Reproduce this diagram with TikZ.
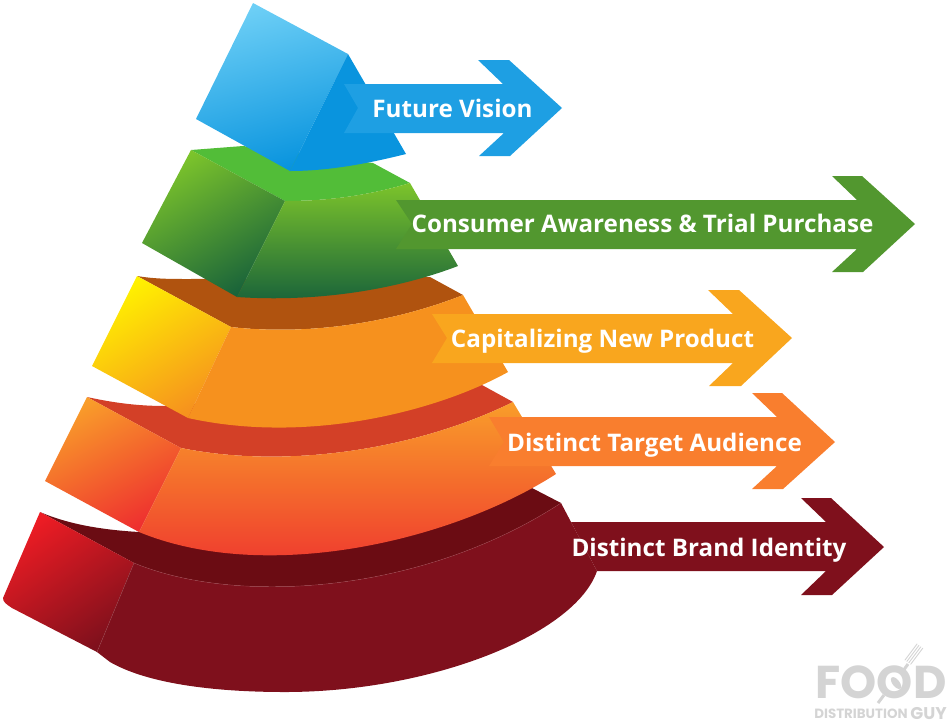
\documentclass[tikz,border=0pt]{standalone}
\usepackage{fontspec}
\setmainfont{Open Sans}
\newfontfamily\logofont{Poppins}
\usetikzlibrary{arrows.meta,calc}

\definecolor{skylight}{HTML}{6DCFF6}
\definecolor{skyface}{HTML}{0994DE}
\definecolor{skyarrow}{HTML}{1E9FE3}
\definecolor{leaflight}{HTML}{7CC42B}
\definecolor{leafdark}{HTML}{19633A}
\definecolor{leaftop}{HTML}{52BD38}
\definecolor{leafarrow}{HTML}{52972F}
\definecolor{ambertop}{HTML}{B0530F}
\definecolor{amberyellow}{HTML}{FFF200}
\definecolor{amberface}{HTML}{F6911E}
\definecolor{amberarrow}{HTML}{F9A61E}
\definecolor{coraltop}{HTML}{D34027}
\definecolor{corallight}{HTML}{F99D2A}
\definecolor{coraldark}{HTML}{EE2F2F}
\definecolor{coralarrow}{HTML}{F97E2E}
\definecolor{winetop}{HTML}{6B0C13}
\definecolor{winered}{HTML}{ED1C24}
\definecolor{wineface}{HTML}{7F101C}
\definecolor{logogrey}{HTML}{D4D4D4}

\tikzset{
	arrowlabel/.style={text=white,font=\fontsize{24.2}{27}\selectfont\bfseries,inner sep=0pt,anchor=base},
	logotext/.style={text=logogrey,inner sep=0pt,anchor=base},
	tine/.style={logogrey,line width=0.9pt,line cap=round}
}

\begin{document}
\begin{tikzpicture}[x=1pt,y=-1pt]
	\useasboundingbox (0,0) rectangle (952,724);
	% bottom layer
	\fill[winetop] (40,512) .. controls (70,525) and (105,530) .. (139,532) -- (532,488) -- (561,503) .. controls (420,595) and (235,605) .. (134,563) -- cycle;
	\shade[top color=winered,bottom color=wineface,shading angle=35] (40,512) -- (134,563) -- (97,652) -- (12,608) .. controls (6,604) and (3,602) .. (3,598) -- cycle;
	\fill[wineface] (134,563) .. controls (235,605) and (420,595) .. (561,503) -- (571,522) -- (597,571) .. controls (575,635) and (430,692) .. (285,692) .. controls (220,692) and (150,685) .. (110,662) -- (97,652) -- cycle;
	\draw[wineface!80!white,line width=0.4pt] (97,652) -- (134,563) .. controls (235,605) and (420,595) .. (561,503);
	\fill[wineface] (571,522) -- (826,522) -- (801,498) -- (831,498) -- (884,547) -- (832,595) -- (801,595) -- (826,571) -- (597,571) -- cycle;
	\node[arrowlabel] (brandidentity) at (709,556) {Distinct Brand Identity};
	% second layer
	\fill[coraltop] (87,397) .. controls (110,402) and (135,406) .. (165,406) -- (482,385) -- (513,402) .. controls (420,448) and (290,470) .. (181,448) -- cycle;
	\shade[top color=corallight,bottom color=coraldark,shading angle=28] (87,397) -- (181,448) -- (139,532) -- (45,481) -- cycle;
	\shade[top color=corallight,bottom color=coraldark] (181,448) .. controls (290,470) and (420,448) .. (513,402) -- (556,474) .. controls (450,542) and (265,584) .. (139,532) -- cycle;
	\fill[coralarrow] (489,417) -- (777,417) -- (752,393) -- (782,393) -- (835,442) -- (783,489) -- (752,489) -- (777,466) -- (489,466) -- (504,442) -- cycle;
	\node[arrowlabel] (targetaudience) at (654.5,451) {Distinct Target Audience};
	% third layer
	\fill[ambertop] (137,276) .. controls (155,279) and (170,279) .. (190,279) -- (430,277) -- (463,295) .. controls (395,322) and (310,336) .. (231,327) -- cycle;
	\shade[top color=amberyellow,bottom color=amberface,shading angle=32] (137,276) -- (231,327) -- (188,418) -- (92,366) -- cycle;
	\fill[amberface] (231,327) .. controls (310,336) and (395,322) .. (463,295) -- (508,372) .. controls (440,410) and (310,445) .. (188,418) -- cycle;
	\fill[amberarrow] (432,314) -- (733,314) -- (708,290) -- (739,290) -- (792,338) -- (741,386) -- (709,386) -- (733,363) -- (432,363) -- (447,338) -- cycle;
	\node[arrowlabel] (newproduct) at (602.5,347) {Capitalizing New Product};
	% fourth layer
	\fill[leaftop] (191,150) -- (243,146) -- (373,163) -- (410,183) .. controls (370,195) and (330,201) .. (285,201) -- cycle;
	\shade[top color=leaflight,bottom color=leafdark,shading angle=30] (191,150) -- (285,201) -- (237,297) -- (142,243) -- cycle;
	\shade[top color=leaflight,bottom color=leafdark] (285,201) .. controls (330,201) and (370,195) .. (410,183) -- (458,266) .. controls (390,292) and (310,302) .. (237,297) -- cycle;
	\fill[leafarrow] (396,200) -- (857,200) -- (832,176) -- (862,176) -- (915,224) -- (863,272) -- (832,272) -- (857,249) -- (396,249) -- (412,224) -- cycle;
	\node[arrowlabel] (trialpurchase) at (642.5,232) {Consumer Awareness \& Trial Purchase};
	% top layer
	\shade[top color=skylight,bottom color=skyface,shading angle=15] (253,3) -- (348,54) -- (290,171) -- (196,119) -- cycle;
	\fill[skyface] (348,54) -- (406,154) .. controls (370,163) and (330,171) .. (290,171) -- cycle;
	\fill[skyarrow] (344,84) -- (503,84) -- (478,60) -- (509,60) -- (562,108) -- (510,156) -- (479,156) -- (504,133) -- (344,133) -- (358,108) -- cycle;
	\node[arrowlabel] (futurevision) at (452.5,117) {Future Vision};
	% logo
	\node[logotext,font=\logofont\fontsize{46}{46}\selectfont\bfseries] (logofood) at (881,698) {FOOD};
	\node[logotext,font=\logofont\fontsize{13.4}{14}\selectfont\bfseries] (logodistribution) at (861,718) {DISTRIBUTION};
	\node[logotext,font=\logofont\fontsize{17}{17}\selectfont\bfseries] (logoguy) at (928.5,719) {GUY};
	\draw[logogrey,line width=3pt] (878,703) -- (884,695) (903,671) -- (908,664);
	\fill[logogrey,rotate around={38:(896,683)}] (896,683) ellipse (3.5pt and 7pt);
	\foreach \i in {0,1,2,3} {
		\draw[tine] ($(905,660)+(\i*1.9,\i*1.4)$) -- ($(917,644)+(\i*1.9,\i*1.4)$);
	}
\end{tikzpicture}
\end{document}
